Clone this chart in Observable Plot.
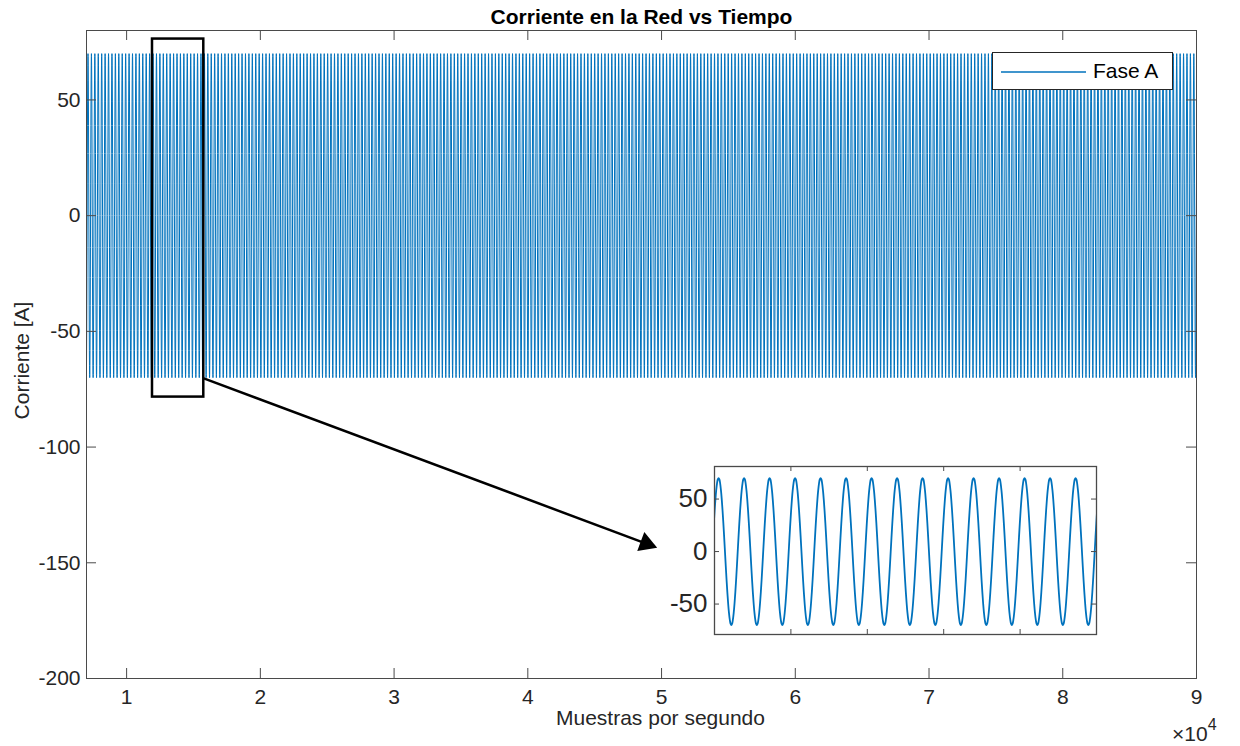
<!DOCTYPE html>
<html>
<head>
<meta charset="utf-8">
<script src="https://cdn.jsdelivr.net/npm/d3@7"></script>
<script src="https://cdn.jsdelivr.net/npm/@observablehq/plot@0.6"></script>
<style>
  body { margin: 0; background: #fff; font-family: "Liberation Sans", Arial, sans-serif; }
  #wrap { position: relative; width: 1240px; height: 746px; overflow: hidden; background: #fff; }
  #main, #inset { position: absolute; }
  #main { left: 0; top: 0; }
  #inset { left: 654px; top: 458px; }
  #legend { position: absolute; left: 992px; top: 52px; width: 179px; height: 36px; border: 1px solid #262626;
            background: #fff; box-sizing: content-box; }
  #legend svg { position: absolute; left: 0; top: 0; }
  #legend span { position: absolute; left: 100px; top: 6px; font-size: 21px; color: #000; }
  #expo { position: absolute; left: 1172px; top: 719px; font-size: 21px; color: #262626; }
  #expo sup { font-size: 16px; position: relative; top: -3px; }
</style>
</head>
<body>
<div id="wrap">
  <div id="main"></div>
  <div id="legend"></div>
  <div id="inset"></div>
  <div id="expo">×10<sup>4</sup></div>
</div>
<script>
// ---- text ----
const title = "Corriente en la Red vs Tiempo";
const xLabel = "Muestras por segundo";
const yLabel = "Corriente [A]";
const seriesName = "Fase A";

// ---- axes ----
const xDomain = [7000, 90000];
const yDomain = [-200, 80];
const xTicks = [10000, 20000, 30000, 40000, 50000, 60000, 70000, 80000, 90000];
const yTicks = [-200, -150, -100, -50, 0, 50];

// ---- signal: one measured cycle (peak ±70 A), repeated every 256 samples ----
const samplesPerCycle = 256;
const firstCycleStart = 136;
const cycleValues = [0, 13.7, 26.8, 38.9, 49.5, 58.2, 64.7, 68.7, 70, 68.7, 64.7, 58.2, 49.5, 38.9, 26.8, 13.7,
                     0, -13.7, -26.8, -38.9, -49.5, -58.2, -64.7, -68.7, -70, -68.7, -64.7, -58.2, -49.5, -38.9, -26.8, -13.7];

// ---- zoom annotation ----
const zoomWindow = [11935, 15770];
const zoomBoxY = [-78.4, 76.3];
const arrowFrom = [15770, -70.3];
const arrowTo = [48854, -141.7];
const arrowAngle = 110.5;

// ---- inset ----
const insetYDomain = [-79, 81];
const insetYTicks = [-50, 0, 50];
const insetXTicks = [12702, 13469, 14236, 15003];

const blue = "#0072BD";
const axisColor = "#4a4a4a";
const textColor = "#262626";

function samples(lo, hi) {
  const step = samplesPerCycle / cycleValues.length;
  const k0 = Math.floor((lo - firstCycleStart) / step) - 1;
  const k1 = Math.ceil((hi - firstCycleStart) / step) + 1;
  const out = [];
  for (let k = k0; k <= k1; k++) {
    const n = cycleValues.length;
    out.push({x: firstCycleStart + k * step, y: cycleValues[((k % n) + n) % n]});
  }
  return out;
}

const W = 1240, H = 746, mT = 30, mB = 68, mL = 86, mR = 44;
const innerW = W - mL - mR, innerH = H - mT - mB;

const main = Plot.plot({
  width: W, height: H,
  marginTop: mT, marginBottom: mB, marginLeft: mL, marginRight: mR,
  x: {domain: xDomain},
  y: {domain: yDomain},
  style: {fontFamily: "Liberation Sans, Arial, sans-serif", color: textColor, background: "transparent", overflow: "visible"},
  marks: [
    Plot.line(samples(xDomain[0], xDomain[1]), {x: "x", y: "y", stroke: blue, strokeWidth: 1, clip: true}),
    Plot.frame({stroke: axisColor, strokeWidth: 1}),
    Plot.ruleX(xTicks, {x: d => d, stroke: axisColor, insetTop: innerH - 10}),
    Plot.ruleX(xTicks, {x: d => d, stroke: axisColor, insetBottom: innerH - 10}),
    Plot.ruleY(yTicks, {y: d => d, stroke: axisColor, insetRight: innerW - 10}),
    Plot.ruleY(yTicks, {y: d => d, stroke: axisColor, insetLeft: innerW - 10}),
    Plot.axisX({ticks: xTicks, tickSize: 0, tickPadding: 11, tickFormat: d => d / 1e4, fontSize: 21, label: null}),
    Plot.axisY({ticks: yTicks, tickSize: 0, tickPadding: 6, tickFormat: d => d, fontSize: 21, label: null}),
    Plot.rect([0], {x1: () => zoomWindow[0], x2: () => zoomWindow[1], y1: () => zoomBoxY[0], y2: () => zoomBoxY[1],
                    fill: "none", stroke: "#000", strokeWidth: 2.5}),
    Plot.link([0], {x1: () => arrowFrom[0], y1: () => arrowFrom[1], x2: () => arrowTo[0], y2: () => arrowTo[1],
                    stroke: "#000", strokeWidth: 2.5}),
    Plot.dot([0], {x: () => arrowTo[0], y: () => arrowTo[1], symbol: "triangle", r: 7.5, fill: "#000", stroke: "none", rotate: arrowAngle}),
    Plot.text([title], {text: d => d, frameAnchor: "top", lineAnchor: "bottom", dy: -7, fontSize: 21, fontWeight: "bold", fill: "#000"}),
    Plot.text([xLabel], {text: d => d, frameAnchor: "bottom", lineAnchor: "top", dy: 32, dx: 19, fontSize: 21, fill: textColor}),
    Plot.text([yLabel], {text: d => d, frameAnchor: "left", textAnchor: "middle", rotate: -90, dx: -64, dy: 6, fontSize: 21, fill: textColor})
  ]
});
document.getElementById("main").appendChild(main);

// legend
const leg = document.getElementById("legend");
leg.innerHTML = `<svg width="179" height="36"><line x1="8" x2="93" y1="19" y2="19" stroke="${blue}" stroke-width="1.5"/></svg><span></span>`;
leg.querySelector("span").textContent = seriesName;

// inset
const iW = 450, iH = 184, imL = 60, imR = 8, imT = 8, imB = 8;
const iInnerW = iW - imL - imR, iInnerH = iH - imT - imB;
const inset = Plot.plot({
  width: iW, height: iH,
  marginTop: imT, marginBottom: imB, marginLeft: imL, marginRight: imR,
  x: {domain: zoomWindow, axis: null},
  y: {domain: insetYDomain},
  style: {fontFamily: "Liberation Sans, Arial, sans-serif", color: textColor, background: "transparent", overflow: "visible"},
  marks: [
    Plot.frame({fill: "#fff", stroke: "none"}),
    Plot.line(samples(zoomWindow[0], zoomWindow[1]), {x: "x", y: "y", stroke: blue, strokeWidth: 1.8, curve: "catmull-rom", clip: true}),
    Plot.frame({stroke: axisColor, strokeWidth: 1.3}),
    Plot.ruleX(insetXTicks, {x: d => d, stroke: axisColor, insetTop: iInnerH - 5}),
    Plot.ruleX(insetXTicks, {x: d => d, stroke: axisColor, insetBottom: iInnerH - 5}),
    Plot.ruleY(insetYTicks, {y: d => d, stroke: axisColor, insetRight: iInnerW - 5}),
    Plot.ruleY(insetYTicks, {y: d => d, stroke: axisColor, insetLeft: iInnerW - 5}),
    Plot.axisY({ticks: insetYTicks, tickSize: 0, tickPadding: 7, tickFormat: d => d, fontSize: 26, label: null})
  ]
});
document.getElementById("inset").appendChild(inset);
</script>
</body>
</html>
